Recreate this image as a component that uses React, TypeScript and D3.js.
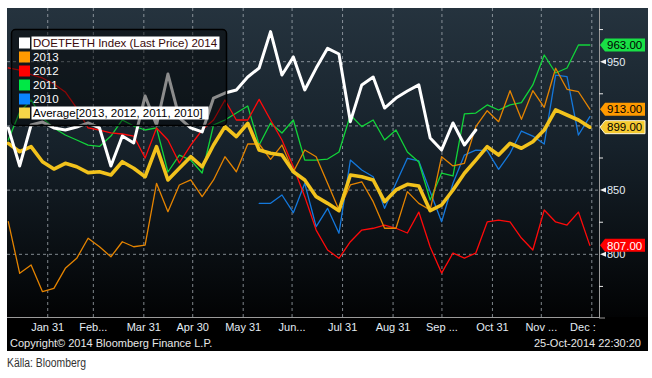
import React from "react";
import * as d3 from "d3";

const W = 652;
const H = 378;

// weekly observations, first week ~ Jan 6 2014
const firstWeek = new Date(2014, 0, 6, 19);
const weekMs = 7 * 24 * 3600 * 1000;

const series2014 = [898.4, 868.8, 900.7, 903.0, 898.4, 896.8, 899.1, 902.3, 898.4, 868.8, 892.1, 886.7, 923.3, 900.7, 940.4, 906.2, 898.4, 895.3, 921.7, 925.6, 928.0, 938.1, 945.1, 973.4, 939.6, 953.7, 928.0, 945.0, 960.4, 956.0, 903.3, 931.9, 938.1, 913.9, 921.7, 927.2, 931.9, 890.6, 881.2, 902.3, 885.1, 896.8];
const series2013 = [825.4, 785.2, 791.7, 770.9, 773.5, 789.1, 796.9, 812.5, 805.9, 798.1, 809.8, 805.9, 807.2, 855.3, 833.2, 854.0, 857.9, 844.9, 857.9, 876.0, 864.3, 885.9, 885.9, 874.0, 885.1, 864.3, 881.2, 876.0, 855.3, 834.5, 854.0, 856.5, 841.0, 820.3, 820.3, 848.8, 839.7, 834.5, 876.0, 868.8, 870.9, 899.4, 911.8, 903.3, 927.4, 905.1, 927.4, 914.5, 944.9, 928.5, 926.6, 913.0];
const series2012 = [945.1, 943.5, 940.0, 937.3, 932.6, 926.4, 913.9, 898.4, 896.8, 894.5, 893.7, 892.1, 875.0, 898.4, 889.0, 871.1, 885.1, 896.8, 904.6, 920.2, 904.6, 904.6, 920.7, 904.6, 889.0, 868.2, 844.9, 818.9, 803.4, 796.9, 809.8, 818.9, 820.3, 822.8, 820.3, 816.6, 832.9, 805.7, 785.4, 801.0, 797.1, 801.0, 825.2, 826.7, 825.2, 812.7, 803.4, 834.5, 825.2, 822.8, 832.9, 807.0];
const series2011 = [889.0, 910.8, 920.2, 906.2, 898.4, 892.9, 889.0, 885.1, 884.0, 892.1, 904.6, 899.9, 896.8, 898.4, 864.1, 877.3, 873.4, 863.3, 900.7, 904.6, 910.0, 915.5, 885.1, 902.3, 894.5, 904.6, 873.4, 873.4, 874.2, 879.7, 908.5, 899.4, 904.6, 889.0, 896.8, 879.7, 871.9, 842.3, 863.3, 861.0, 909.3, 910.0, 916.3, 912.4, 916.3, 918.1, 931.9, 955.2, 941.2, 945.1, 963.0, 963.0];
const series2010Start = 22;
const series2010 = [839.7, 839.7, 846.2, 832.4, 855.3, 821.5, 835.8, 816.4, 873.4, 865.7, 860.4, 835.8, 855.3, 874.8, 872.7, 848.8, 825.4, 855.3, 877.3, 881.2, 880.7, 866.2, 878.7, 896.0, 892.1, 885.9, 939.6, 938.3, 892.9, 907.2];
const seriesAvg = [886.4, 879.9, 883.8, 872.1, 866.4, 870.9, 868.2, 863.6, 864.3, 861.8, 872.1, 867.0, 860.4, 883.8, 857.9, 867.0, 876.0, 868.2, 885.1, 899.4, 891.6, 902.0, 881.2, 878.7, 877.3, 864.3, 857.9, 844.9, 839.7, 834.0, 861.8, 860.4, 857.9, 841.0, 850.1, 854.5, 853.2, 834.0, 838.4, 850.1, 863.1, 873.4, 883.8, 877.3, 886.4, 882.6, 887.7, 896.8, 912.4, 908.5, 904.6, 899.0];

const tickDates = [
  new Date(2014, 0, 31), new Date(2014, 1, 28), new Date(2014, 2, 31), new Date(2014, 3, 30),
  new Date(2014, 4, 31), new Date(2014, 5, 30), new Date(2014, 6, 31), new Date(2014, 7, 31),
  new Date(2014, 8, 30), new Date(2014, 9, 31), new Date(2014, 10, 30), new Date(2014, 11, 31),
];
const tickLabels = ["Jan 31", "Feb...", "Mar 31", "Apr 30", "May 31", "Jun...", "Jul 31", "Aug 31", "Sep ...", "Oct 31", "Nov ...", "Dec :"];
const yMajor = [800, 850, 900, 950];
const yLabelled = [800, 850, 950]; // 900 is hidden behind the value tags
const yMinor = [775, 825, 875, 925, 975];

const legendNames = ["DOETFETH Index (Last Price) 2014", "2013", "2012", "2011", "2010", "Average[2013, 2012, 2011, 2010]"];
const legendColors = ["#ffffff", "#ff9a00", "#ff0000", "#00e845", "#0a84ff", "#f7d548"];

const lastValues = [963, 913, 899, 807];
const lastColors = ["#19e046", "#ff9a00", "#f5c930", "#ff0000"];
const lastText = ["#000", "#000", "#000", "#fff"];

const PX0 = 7, PX1 = 599, PY0 = 8, PY1 = 317;
const FONT = "'Liberation Sans', Arial, sans-serif";

export default function App() {
  const x = d3.scaleTime()
    .domain([new Date(2014, 0, 6), new Date(2015, 0, 4, 10)])
    .range([PX0, PX1]);
  const y = d3.scaleLinear().domain([751.2, 991.8]).range([PY1, PY0]);

  const dateAt = (k: number) => new Date(firstWeek.getTime() + k * weekMs);
  const line = d3.line<[number, number]>().x((d) => x(dateAt(d[0]))).y((d) => y(d[1]));
  const pts = (arr: number[], start = 0) => arr.map((v, i) => [i + start, v] as [number, number]);

  const thin = [
    { d: pts(series2010, series2010Start), c: "#1478dc" },
    { d: pts(series2011), c: "#12d43a" },
    { d: pts(series2012), c: "#ff0a0a" },
    { d: pts(series2013), c: "#e58400" },
  ];

  return (
    <svg width={W} height={H} style={{ position: "absolute", left: 0, top: 0 }} fontFamily={FONT}>
      <defs>
        <linearGradient id="bg" x1="0" y1="0" x2="0" y2="1">
          <stop offset="0%" stopColor="#25333e" />
          <stop offset="45%" stopColor="#16212a" />
          <stop offset="100%" stopColor="#020304" />
        </linearGradient>
        <clipPath id="plot">
          <rect x={PX0} y={PY0} width={PX1 - PX0} height={PY1 - PY0} />
        </clipPath>
      </defs>
      <rect x={0} y={0} width={W} height={H} fill="#fff" />
      <rect x={PX0} y={PY0} width={648 - PX0} height={PY1 - PY0} fill="url(#bg)" />
      <rect x={PX0} y={PY1} width={648 - PX0} height={351 - PY1} fill="#000" />

      {/* grid */}
      {tickDates.map((d, i) => (
        <line key={"vg" + i} x1={x(d)} x2={x(d)} y1={PY0} y2={PY1} stroke="#a9b1b8" strokeOpacity={0.75} strokeDasharray="3,3" />
      ))}
      {yMajor.map((v) => (
        <line key={"hg" + v} x1={PX0} x2={PX1} y1={y(v)} y2={y(v)} stroke="#a9b1b8" strokeOpacity={0.75} strokeDasharray="3,3" />
      ))}

      {/* series */}
      <g clipPath="url(#plot)" fill="none" strokeLinejoin="round" strokeLinecap="round">
        {thin.map((s, i) => (
          <path key={"s" + i} d={line(s.d) || ""} stroke={s.c} strokeWidth={1.3} />
        ))}
        <path d={line(pts(seriesAvg)) || ""} stroke="#f2c21c" strokeWidth={3.6} />
        <path d={line(pts(series2014)) || ""} stroke="#ffffff" strokeWidth={3} />
      </g>

      {/* axes */}
      <line x1={PX0} x2={PX1} y1={PY1 + 0.5} y2={PY1 + 0.5} stroke="#9a9a9a" />
      <line x1={PX1 + 0.5} x2={PX1 + 0.5} y1={PY0} y2={PY1 + 1} stroke="#9a9a9a" />
      <line x1={PX1} x2={PX1 + 6} y1={PY1 + 1} y2={PY1 + 1} stroke="#9a9a9a" />
      {tickLabels.map((t, i) => (
        <text key={"xl" + i} x={i === 11 ? x(tickDates[i]) + 4 : x(tickDates[i])} y={331} fill="#e4ecf4" fontSize={11} textAnchor={i === 11 ? "end" : "middle"}>{t}</text>
      ))}
      {yMinor.map((v) => (
        <line key={"ym" + v} x1={PX1} x2={PX1 + 4} y1={y(v)} y2={y(v)} stroke="#e8e8e8" />
      ))}
      {yMajor.map((v) => (
        <path key={"ya" + v} d={`M${PX1 + 1},${y(v)} L${PX1 + 7},${y(v) - 2.5} L${PX1 + 7},${y(v) + 2.5} Z`} fill="#f0f0f0" />
      ))}
      {yLabelled.map((v) => (
        <text key={"yl" + v} x={PX1 + 8} y={y(v) + 4} fill="#e4ecf4" fontSize={11}>{v}</text>
      ))}

      {/* last value tags */}
      {lastValues.map((v, i) => {
        const cy = y(v);
        return (
          <g key={"tag" + i}>
            <path d={`M${PX1 + 1},${cy} L${PX1 + 6},${cy - 6.5} L645,${cy - 6.5} L645,${cy + 6.5} L${PX1 + 6},${cy + 6.5} Z`}
              fill={lastColors[i]} stroke={i === 2 ? "#fff8d8" : "none"} strokeWidth={1} />
            <text x={PX1 + 8} y={cy + 4.2} fill={lastText[i]} fontSize={11.5}>{v.toFixed(2)}</text>
          </g>
        );
      })}

      {/* legend */}
      <rect x={11.5} y={29.5} width={215} height={96} rx={4} fill="rgba(0,0,0,0.45)" stroke="#000" strokeWidth={1.5} />
      {legendNames.map((n, i) => {
        const cy = 43 + i * 14;
        const boxed = i === 0 || i === 5;
        return (
          <g key={"lg" + i}>
            <rect x={19} y={cy - 5.5} width={11} height={11} fill={legendColors[i]} />
            {boxed && <rect x={31.5} y={cy - 6.5} width={i === 0 ? 188 : 177} height={13} fill="#fff" />}
            <text x={33} y={cy + 4.3} fontSize={11.5} fill={i === 0 ? "#3a0a0a" : i === 5 ? "#000" : "#fff"}>{n}</text>
          </g>
        );
      })}

      {/* footer */}
      <text x={10} y={347} fill="#e8e8e8" fontSize={11}>Copyright© 2014 Bloomberg Finance L.P.</text>
      <text x={641} y={347} fill="#e8e8e8" fontSize={11} textAnchor="end">25-Oct-2014 22:30:20</text>
      <text x={7} y={367} fill="#333" fontSize={12} textLength={79} lengthAdjust="spacingAndGlyphs">Källa: Bloomberg</text>
    </svg>
  );
}
